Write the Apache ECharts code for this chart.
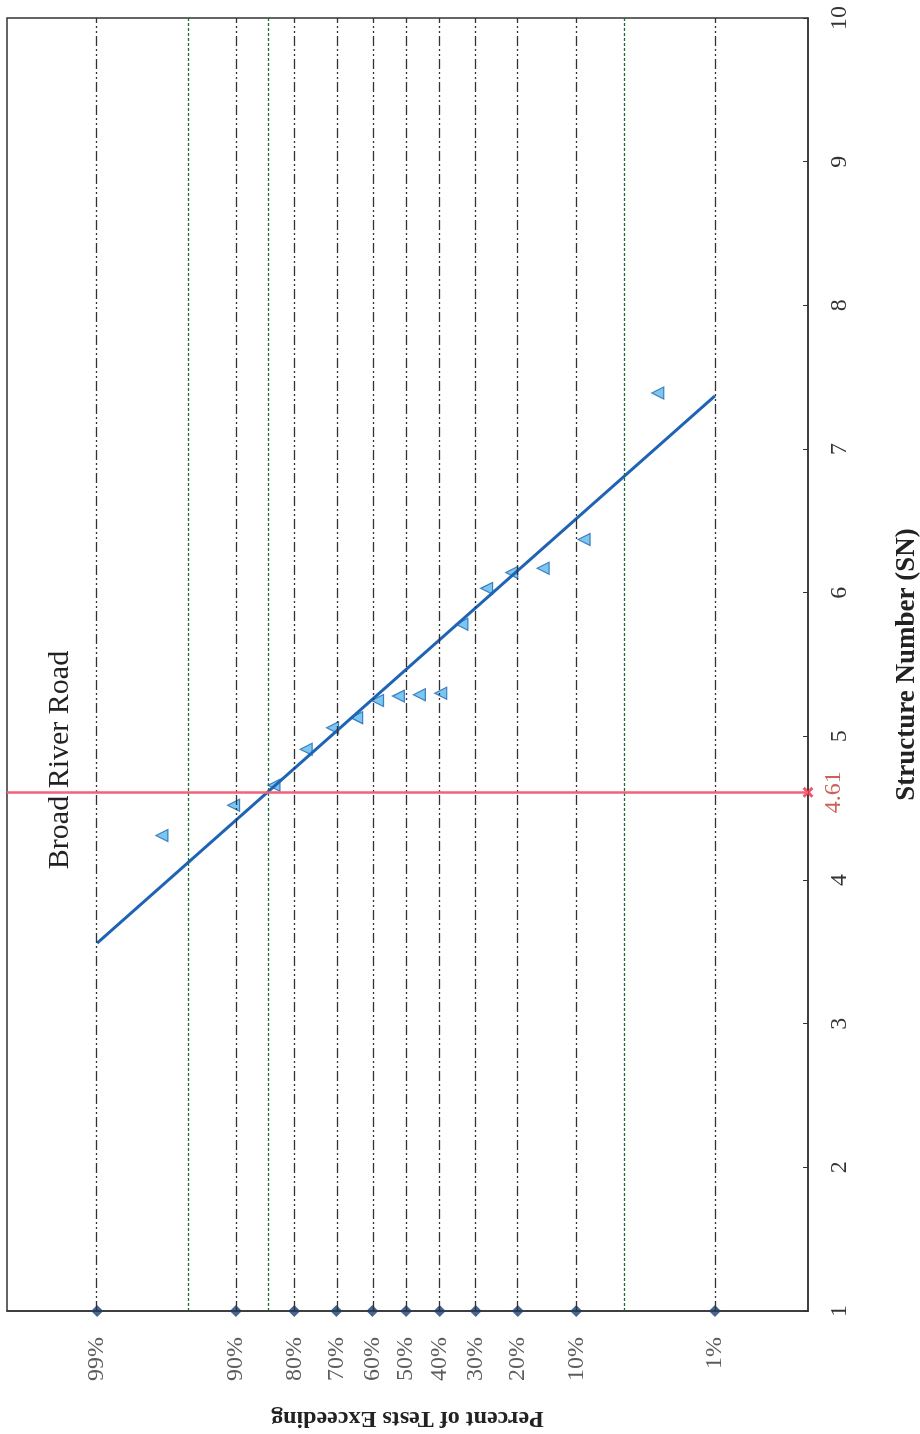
<!DOCTYPE html>
<html>
<head>
<meta charset="utf-8">
<script src="https://cdn.jsdelivr.net/npm/echarts@6/dist/echarts.min.js"></script>
<style>
html,body{margin:0;padding:0;background:#fff;}
#chart{width:920px;height:1434px;}
</style>
</head>
<body>
<div id="chart"></div>
<script>
// ---- data ----
const gridPct = [99, 90, 80, 70, 60, 50, 40, 30, 20, 10, 1];
const gridLabels = ['99%', '90%', '80%', '70%', '60%', '50%', '40%', '30%', '20%', '10%', '1%'];
const limitPct = [95, 85, 5];
const testPct = [96.7, 90.3, 84.0, 77.4, 71.0, 64.5, 58.5, 52.3, 46.0, 39.7, 33.7, 27.2, 21.3, 15.1, 9.0, 2.9];
const testSN  = [4.31, 4.52, 4.66, 4.91, 5.06, 5.13, 5.25, 5.28, 5.29, 5.30, 5.78, 6.03, 6.14, 6.17, 6.37, 7.39];
const fitPct = [99, 1];
const fitSN  = [3.56, 7.37];
const designSN = 4.61;
const designLabel = '4.61';
const siteName = 'Broad River Road';

// ---- probability (normal) scale ----
function normInv(p) {
  const a = [-3.969683028665376e+01, 2.209460984245205e+02, -2.759285104469687e+02, 1.383577518672690e+02, -3.066479806614716e+01, 2.506628277459239e+00];
  const b = [-5.447609879822406e+01, 1.615858368580409e+02, -1.556989798598866e+02, 6.680131188771972e+01, -1.328068155288572e+01];
  const c = [-7.784894002430293e-03, -3.223964580411365e-01, -2.400758277161838e+00, -2.549732539343734e+00, 4.374664141464968e+00, 2.938163982698783e+00];
  const d = [7.784695709041462e-03, 3.224671290700398e-01, 2.445134137142996e+00, 3.754408661907416e+00];
  const pl = 0.02425, ph = 1 - pl;
  let q, r;
  if (p < pl) {
    q = Math.sqrt(-2 * Math.log(p));
    return (((((c[0]*q+c[1])*q+c[2])*q+c[3])*q+c[4])*q+c[5]) / ((((d[0]*q+d[1])*q+d[2])*q+d[3])*q+1);
  } else if (p <= ph) {
    q = p - 0.5; r = q * q;
    return (((((a[0]*r+a[1])*r+a[2])*r+a[3])*r+a[4])*r+a[5])*q / (((((b[0]*r+b[1])*r+b[2])*r+b[3])*r+b[4])*r+1);
  } else {
    q = Math.sqrt(-2 * Math.log(1 - p));
    return -(((((c[0]*q+c[1])*q+c[2])*q+c[3])*q+c[4])*q+c[5]) / ((((d[0]*q+d[1])*q+d[2])*q+d[3])*q+1);
  }
}
const u = p => -normInv(p / 100);   // 99% on the left, 1% on the right
const X_MIN = -3.005, X_MAX = 3.027;

const serif = '"Liberation Serif", "DejaVu Serif", serif';
const dashDot = [10, 3, 2, 3, 2, 3];

const chart = echarts.init(document.getElementById('chart'));
chart.setOption({
  backgroundColor: '#fff',
  animation: false,
  grid: { left: 7, right: 112, top: 18, bottom: 123, outerBoundsMode: 'none', containLabel: false,
          show: true, borderColor: '#333', borderWidth: 1.5 },
  xAxis: {
    type: 'value', min: X_MIN, max: X_MAX,
    name: 'Percent of Tests Exceeding', nameLocation: 'middle', nameGap: 95, nameRotate: 180,
    nameTextStyle: { fontFamily: serif, fontWeight: 'bold', fontSize: 24, color: '#222' },
    axisLine: { show: true, onZero: false, lineStyle: { color: '#333', width: 1.5 } },
    axisTick: { show: false }, axisLabel: { show: false }, splitLine: { show: false }
  },
  yAxis: {
    type: 'value', position: 'right', min: 1, max: 10, interval: 1,
    name: 'Structure Number (SN)', nameLocation: 'middle', nameGap: 86, nameRotate: 90,
    nameTextStyle: { fontFamily: serif, fontWeight: 'bold', fontSize: 27, color: '#222' },
    axisLine: { show: true, onZero: false, lineStyle: { color: '#333', width: 1.5 } },
    axisTick: { show: true, inside: true, length: 5, lineStyle: { color: '#333' } },
    axisLabel: { rotate: 90, margin: 20, fontFamily: serif, fontSize: 24, color: '#333' },
    splitLine: { show: false }
  },
  graphic: [{
    type: 'text', rotation: Math.PI / 2, x: 60, y: 760,
    style: { text: siteName, font: '30px ' + serif, fill: '#222', textAlign: 'center', textVerticalAlign: 'middle' }
  }],
  series: [
    {
      name: 'gridlines', type: 'line', data: [], silent: true,
      markLine: {
        silent: true, symbol: ['none', 'none'], label: { show: false },
        data: gridPct.map(p => ({ xAxis: u(p), lineStyle: { color: '#333', width: 1.3, type: dashDot } }))
          .concat(limitPct.map(p => ({ xAxis: u(p), lineStyle: { color: '#1d6b3b', width: 1.3, type: [3, 2] } })))
      }
    },
    {
      name: 'design', type: 'line', data: [], silent: true,
      markLine: {
        silent: true, symbol: ['none', 'none'], label: { show: false },
        data: [{ yAxis: designSN, lineStyle: { color: '#f2627a', width: 2.5, type: 'solid' } }]
      }
    },
    {
      name: 'fit', type: 'line', symbol: 'none',
      lineStyle: { color: '#1f63b5', width: 3 },
      data: fitPct.map((p, i) => [u(p), fitSN[i]])
    },
    {
      name: 'tests', type: 'scatter', symbol: 'triangle', symbolRotate: 90, symbolSize: 12,
      itemStyle: { color: '#5ab9ec', borderColor: '#1f66b0', borderWidth: 1.2 },
      data: testPct.map((p, i) => [u(p), testSN[i]])
    },
    {
      name: 'pctTicks', type: 'scatter', symbol: 'diamond', symbolSize: 12, clip: false,
      itemStyle: { color: '#1b3f6e' },
      label: {
        show: true, position: 'bottom', distance: 20, rotate: 90, align: 'right', verticalAlign: 'middle',
        fontFamily: serif, fontSize: 24, color: '#333',
        formatter: prm => gridLabels[prm.dataIndex]
      },
      data: gridPct.map(p => [u(p), 1])
    },
    {
      name: 'designMark', type: 'scatter', clip: false, symbolSize: 11,
      symbol: 'path://M0,2 L2,0 L5,3 L8,0 L10,2 L7,5 L10,8 L8,10 L5,7 L2,10 L0,8 L3,5 Z',
      itemStyle: { color: '#e8324a' },
      label: {
        show: true, position: 'right', distance: 8, rotate: 90, align: 'center', verticalAlign: 'top',
        fontFamily: serif, fontSize: 24, color: '#c0392b', formatter: designLabel
      },
      data: [[X_MAX, designSN]]
    }
  ]
});
</script>
</body>
</html>
